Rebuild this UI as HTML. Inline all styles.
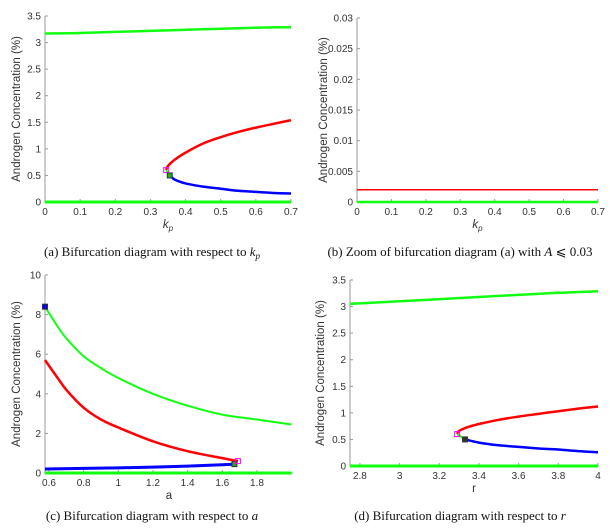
<!DOCTYPE html>
<html><head><meta charset="utf-8">
<style>
html,body{margin:0;padding:0;background:#fff;width:610px;height:528px;overflow:hidden}
svg{position:absolute;left:0;top:0}
.t{font-family:"Liberation Sans",sans-serif;font-size:10px;fill:#333}
.lab{font-family:"Liberation Sans",sans-serif;font-size:11.5px;fill:#333}
.cap{font-family:"Liberation Serif",serif;font-size:13px;fill:#111}
</style></head><body>
<svg id="s" width="610" height="528"></svg>
<script>
// Panel (a)
const aX_green_hi=[0,0.1,0.2,0.3,0.4,0.5,0.6,0.7];
const aY_green_hi=[3.17,3.18,3.2,3.22,3.24,3.26,3.28,3.29];
const aX_red=[0.345,0.35,0.37,0.4,0.45,0.5,0.55,0.6,0.65,0.7];
const aY_red=[0.6,0.68,0.8,0.93,1.1,1.22,1.32,1.4,1.47,1.54];
const aX_blue=[0.355,0.37,0.4,0.45,0.5,0.55,0.6,0.65,0.7];
const aY_blue=[0.5,0.42,0.35,0.29,0.25,0.21,0.19,0.17,0.16];
const aX_green_lo=[0,0.7];
const aY_green_lo=[0,0];
const aTicksX=[0,0.1,0.2,0.3,0.4,0.5,0.6,0.7];
const aTicksY=[0,0.5,1,1.5,2,2.5,3,3.5];
// Panel (b)
const bX_red=[0,0.7];
const bY_red=[0.002,0.002];
const bX_green=[0,0.7];
const bY_green=[0,0];
const bTicksX=[0,0.1,0.2,0.3,0.4,0.5,0.6,0.7];
const bTicksY=[0,0.005,0.01,0.015,0.02,0.025,0.03];
// Panel (c)
const cX_green=[0.577,0.65,0.7,0.8,0.9,1.0,1.2,1.4,1.6,1.8,2.0];
const cY_green=[8.4,7.4,6.8,5.9,5.3,4.8,4.0,3.4,2.95,2.7,2.45];
const cX_red=[0.577,0.65,0.7,0.8,0.9,1.0,1.2,1.4,1.6,1.69];
const cY_red=[5.7,4.8,4.2,3.3,2.7,2.3,1.6,1.1,0.75,0.6];
const cX_blue=[0.577,0.8,1.0,1.2,1.4,1.6,1.67];
const cY_blue=[0.2,0.23,0.26,0.3,0.35,0.42,0.45];
const cX_green_lo=[0.577,2.0];
const cY_green_lo=[0,0];
const cTicksX=[0.6,0.8,1,1.2,1.4,1.6,1.8];
const cTicksY=[0,2,4,6,8,10];
// Panel (d)
const dX_green=[2.75,3,3.25,3.5,3.75,4];
const dY_green=[3.05,3.1,3.15,3.2,3.25,3.29];
const dX_red=[3.29,3.3,3.35,3.4,3.5,3.6,3.7,3.8,3.9,4];
const dY_red=[0.6,0.66,0.74,0.79,0.87,0.93,0.98,1.03,1.08,1.12];
const dX_blue=[3.33,3.4,3.5,3.6,3.7,3.8,3.9,4];
const dY_blue=[0.5,0.44,0.39,0.36,0.33,0.31,0.28,0.26];
const dX_green_lo=[2.75,4];
const dY_green_lo=[0,0];
const dTicksX=[2.8,3,3.2,3.4,3.6,3.8,4];
const dTicksY=[0,0.5,1,1.5,2,2.5,3,3.5];

const NS="http://www.w3.org/2000/svg";
const svg=document.getElementById('s');
function mk(tag,attrs,parent){const e=document.createElementNS(NS,tag);for(const k in attrs)e.setAttribute(k,attrs[k]);(parent||svg).appendChild(e);return e;}

function panel(id,box,xd,yd,tx,ty,xlab,italic,cap,capx,capy){
  const g=mk('g',{});
  
  
  const sx=v=>box.x0+(v-xd[0])/(xd[1]-xd[0])*(box.x1-box.x0);
  const sy=v=>box.y0-(v-yd[0])/(yd[1]-yd[0])*(box.y0-box.y1);
  const ax=mk('path',{d:`M${box.x0},${box.y1}V${box.y0}H${box.x1}`,stroke:'#999',fill:'none','stroke-width':1},g);
  
  
  tx.forEach(v=>{
    mk('line',{x1:sx(v),x2:sx(v),y1:box.y0,y2:box.y0-3,stroke:'#999'},g);
    const t=mk('text',{x:sx(v),y:box.y0+13,'text-anchor':'middle',class:'t'},g);t.textContent=v;
    
    
  });
  ty.forEach(v=>{
    mk('line',{x1:box.x0,x2:box.x0+3,y1:sy(v),y2:sy(v),stroke:'#999'},g);
    const t=mk('text',{x:box.x0-4,y:sy(v)+3.5,'text-anchor':'end',class:'t'},g);t.textContent=v;
    
    
  });
  const xl=mk('text',{x:(box.x0+box.x1)/2,y:box.y0+26,'text-anchor':'middle',class:'lab'},g);
  if(italic){xl.innerHTML='<tspan font-style="italic">k</tspan><tspan font-style="italic" font-size="8" dy="3">p</tspan>';}else xl.textContent=xlab;
  
  
  const yl=mk('text',{x:0,y:0,'text-anchor':'middle',class:'lab',transform:`translate(${box.yt},${(box.y0+box.y1)/2}) rotate(-90)`},g);
  yl.textContent='Androgen Concentration (%)';
  
  
  const c=mk('text',{x:capx,y:capy,'text-anchor':'middle',class:'cap'},g);
  c.innerHTML=cap;
  
  
  return {g,sx,sy};
}
function line(p,xs,ys,col,w,name){
  const P=xs.map((x,i)=>[p.sx(x),p.sy(ys[i])]);
  let d='M'+P[0][0].toFixed(1)+','+P[0][1].toFixed(1);
  for(let i=0;i<P.length-1;i++){
    const p0=P[Math.max(0,i-1)],p1=P[i],p2=P[i+1],p3=P[Math.min(P.length-1,i+2)];
    const c1=[p1[0]+(p2[0]-p0[0])/6,p1[1]+(p2[1]-p0[1])/6];
    const c2=[p2[0]-(p3[0]-p1[0])/6,p2[1]-(p3[1]-p1[1])/6];
    d+=`C${c1[0].toFixed(1)},${c1[1].toFixed(1)} ${c2[0].toFixed(1)},${c2[1].toFixed(1)} ${p2[0].toFixed(1)},${p2[1].toFixed(1)}`;
  }
  const e=mk('path',{d,stroke:col,fill:'none','stroke-width':w,'stroke-linejoin':'round'},p.g);
  
  
}
function marker(p,x,y,col,fill,name){
  const e=mk('rect',{x:p.sx(x)-2.5,y:p.sy(y)-2.5,width:5,height:5,stroke:col,fill:fill,'stroke-width':1},p.g);
  
  
}

const pa=panel('panel-a',{x0:45,x1:291,y0:202,y1:16,yt:20},[0,0.7],[0,3.5],aTicksX,aTicksY,'',true,'(a) Bifurcation diagram with respect to <tspan font-style="italic">k</tspan><tspan font-style="italic" font-size="9" dy="3">p</tspan>',152,256);
line(pa,aX_green_hi,aY_green_hi,'#1f1',2.5,'green-upper-branch');
line(pa,aX_red,aY_red,'#f00',2.5,'red-branch');
line(pa,aX_blue,aY_blue,'#00f',2.5,'blue-branch');
line(pa,[aX_red[0],aX_blue[0]],[aY_red[0],aY_blue[0]],'#1f1',2,'green-fold-segment');
line(pa,aX_green_lo,aY_green_lo,'#1f1',3,'green-zero-branch');
marker(pa,aX_red[0],aY_red[0],'#f0f','none','fold-point');
marker(pa,aX_blue[0],aY_blue[0],'#333','#2a2','hopf-point');

const pb=panel('panel-b',{x0:357,x1:598,y0:202,y1:18,yt:327},[0,0.7],[0,0.03],bTicksX,bTicksY,'',true,'(b) Zoom of bifurcation diagram (a) with <tspan font-style="italic">A</tspan> ⩽ 0.03',460,256);
line(pb,bX_red,bY_red,'#f00',1.5,'red-branch');
line(pb,bX_green,bY_green,'#1f1',2.5,'green-zero-branch');

const pc=panel('panel-c',{x0:45,x1:293,y0:473,y1:275,yt:20},[0.577,2.008],[0,10],cTicksX,cTicksY,'a',false,'(c) Bifurcation diagram with respect to <tspan font-style="italic">a</tspan>',152,520);
line(pc,cX_green,cY_green,'#1f1',2,'green-branch');
line(pc,cX_red,cY_red,'#f00',2.5,'red-branch');
line(pc,cX_blue,cY_blue,'#00f',3,'blue-branch');
line(pc,cX_green_lo,cY_green_lo,'#1f1',3,'green-zero-branch');
marker(pc,cX_green[0],cY_green[0],'#333','#00f','left-bifurcation-point');
marker(pc,cX_blue[cX_blue.length-1],cY_blue[cY_blue.length-1],'#333','#2a2','hopf-point');
marker(pc,cX_red[cX_red.length-1],cY_red[cY_red.length-1],'#f0f','none','fold-point');

const pd=panel('panel-d',{x0:350,x1:598,y0:466,y1:280,yt:324},[2.75,4],[0,3.5],dTicksX,dTicksY,'r',false,'(d) Bifurcation diagram with respect to <tspan font-style="italic">r</tspan>',460,520);
line(pd,dX_green,dY_green,'#1f1',2.5,'green-upper-branch');
line(pd,dX_red,dY_red,'#f00',2.5,'red-branch');
line(pd,dX_blue,dY_blue,'#00f',2.5,'blue-branch');
line(pd,[dX_red[0],dX_blue[0]],[dY_red[0],dY_blue[0]],'#1f1',2,'green-fold-segment');
line(pd,dX_green_lo,dY_green_lo,'#1f1',3,'green-zero-branch');
marker(pd,dX_red[0],dY_red[0],'#f0f','none','fold-point');
marker(pd,dX_blue[0],dY_blue[0],'#333','#333','hopf-point');
</script>
</body></html>
